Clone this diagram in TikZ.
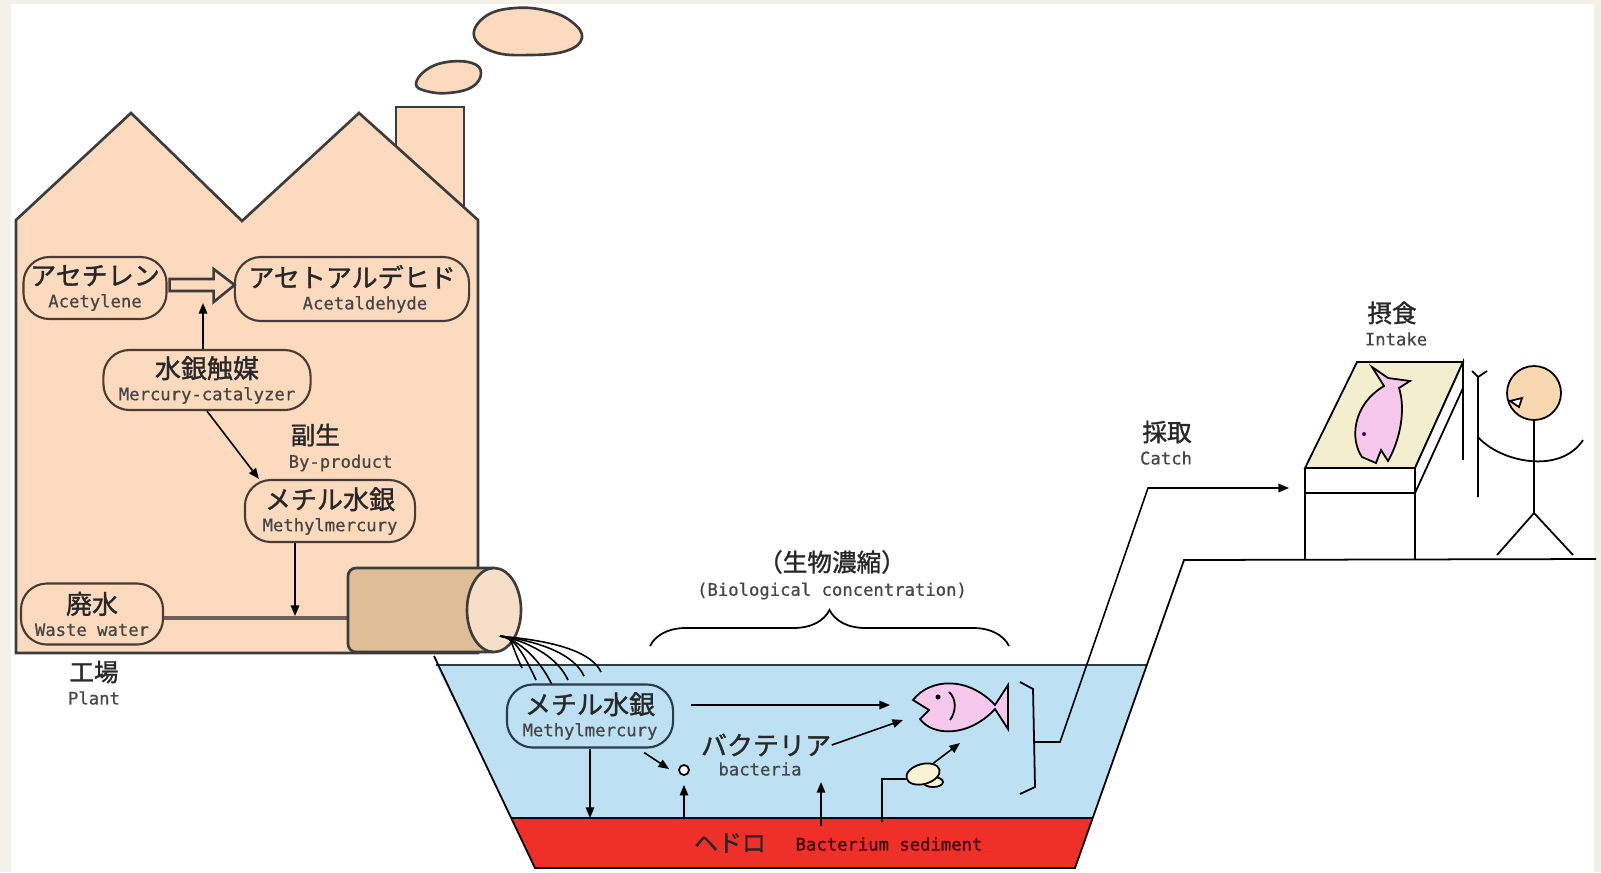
\documentclass[tikz,border=0pt]{standalone}
\usepackage{fontspec}
\usepackage{xcolor}
\usepackage{tikz}
\usetikzlibrary{shapes.geometric, arrows.meta, positioning, calc, decorations.pathreplacing}
\newfontfamily\jpfont[FakeBold=1.3]{Noto Sans CJK JP}
\newfontfamily\enfont[FakeBold=0.6]{DejaVu Sans Mono}
\definecolor{paper}{RGB}{243, 240, 233}
\definecolor{factory}{RGB}{251, 218, 190}
\definecolor{outline}{RGB}{60, 60, 60}
\definecolor{boxline}{RGB}{74, 60, 52}
\definecolor{pipebody}{RGB}{222, 190, 150}
\definecolor{pipeend}{RGB}{247, 222, 200}
\definecolor{pipeline}{RGB}{110, 96, 88}
\definecolor{water}{RGB}{189, 224, 242}
\definecolor{pondline}{RGB}{40, 60, 75}
\definecolor{sludge}{RGB}{238, 48, 41}
\definecolor{tabletop}{RGB}{242, 238, 206}
\definecolor{fishpink}{RGB}{246, 200, 236}
\definecolor{skin}{RGB}{249, 215, 176}
\definecolor{shellcream}{RGB}{250, 242, 212}
\definecolor{jptext}{RGB}{40, 40, 40}
\definecolor{entext}{RGB}{70, 70, 70}
\newcommand{\entxt}[1]{{\enfont\fontsize{4.9}{5}\selectfont\color{entext}#1}}

\begin{document}
\begin{tikzpicture}[
    x=0.01cm, y=-0.01cm,
    fbox/.style={rectangle, draw=boxline, line width=0.6pt, fill=factory, rounded corners=0.26cm, align=center, inner sep=0pt, text=jptext, font=\jpfont\fontsize{7.4}{6.3}\selectfont},
    pbox/.style={fbox, draw=pondline, fill=water},
    tag/.style={align=center, inner sep=0pt, text=jptext, font=\jpfont\fontsize{7}{7}\selectfont},
    thickline/.style={line width=0.75pt, draw=outline},
    thinline/.style={line width=0.5pt, draw=black},
    arrow/.style={-{Triangle[length=3pt, width=2.4pt]}, line width=0.45pt, black},
    stream/.style={line width=0.45pt, black},
    wasteline/.style={line width=0.9pt, draw=pipeline}
]
    \useasboundingbox (0,0) rectangle (1601,872);
    \fill[paper] (0,0) rectangle (1601,872);
    \fill[white] (11,4) rectangle (1594,872);

    % smoke
    \draw[thickline, fill=factory] plot[smooth cycle, tension=0.7] coordinates {(474,36) (486,16) (515,8) (548,11) (572,22) (582,38) (566,51) (530,55) (494,52)};
    \draw[thickline, fill=factory] plot[smooth cycle, tension=0.7] coordinates {(416,84) (426,70) (447,62) (472,63) (481,73) (472,87) (448,93) (426,91)};

    % plant building
    \draw[thickline, fill=factory] (396,215) -- (396,107) -- (464,107) -- (464,215);
    \draw[thickline, fill=factory] (16,653) -- (16,220) -- (131,113) -- (242,221) -- (359,113) -- (478,220) -- (478,653) -- cycle;

    \node[fbox, minimum width=1.43cm, minimum height=0.62cm] (ace) at (95,288) {アセチレン\\\entxt{Acetylene}};
    \node[fbox, minimum width=2.34cm, minimum height=0.64cm] (ald) at (352,289) {アセトアルデヒド\\\entxt{\hspace*{1.5em}Acetaldehyde}};
    \node[fbox, minimum width=2.07cm, minimum height=0.60cm] (cat) at (207,380) {水銀触媒\\\entxt{Mercury-catalyzer}};
    \node[fbox, minimum width=1.70cm, minimum height=0.62cm] (mhg) at (330,511) {メチル水銀\\\entxt{Methylmercury}};
    \node[fbox, minimum width=1.42cm, minimum height=0.61cm] (waste) at (92,614) {廃水\\\entxt{Waste water}};

    \node[tag, anchor=west] (byp) at (290,435) {副生};
    \node[tag, anchor=west] (bypen) at (288,463) {\entxt{By-product}};
    \node[tag] (plant) at (94,672) {工場};
    \node[tag] (planten) at (94,698) {\entxt{Plant}};

    \draw[thickline, fill=factory] ($(ace.east)+(2,-9)$) -- ++(44,0) -- ++(0,-10) -- ++(21,16) -- ++(-21,17) -- ++(0,-11) -- ++(-44,0) -- cycle;
    \coordinate (cata) at (203,303);
    \draw[arrow] (cat.north -| cata) -- (cata);
    \draw[arrow] (cat.south) -- ($(mhg.north west)+(15,0)$);

    % drain pipe
    \coordinate (pipe) at (348,618);
    \coordinate (join) at (295,616);
    \draw[wasteline] (waste.east |- pipe) -- (pipe);
    \draw[arrow] (mhg.south -| join) -- (join);
    \draw[thickline, fill=pipebody, rounded corners=0.08cm] (494,568) -- (348,568) -- (348,652) -- (494,652);
    \draw[thickline, fill=pipeend] (494,610) ellipse [x radius=27, y radius=42];

    % pond
    \fill[water] (436,665) -- (1146,665) -- (1093,818) -- (512,818) -- cycle;
    \fill[sludge] (512,818) -- (1093,818) -- (1075,868) -- (535,868) -- cycle;
    \draw[thinline, draw=pondline] (436,665) -- (1146,665);
    \draw[thinline] (512,818) -- (1093,818);
    \draw[thinline] (434,656) -- (535,868) -- (1075,868) -- (1184,560) -- (1596,559);

    \foreach \ex/\ey in {522/668, 536/680, 552/685, 568/680, 584/676, 601/672}
        \draw[stream] (500,636) .. controls (514,638) and (\ex-14,\ey-30) .. (\ex,\ey);

    \node[tag] (bioc) at (832,562) {（生物濃縮）};
    \node[tag] (biocen) at (832,591) {\entxt{(Biological concentration)}};
    \draw[thinline, decorate, decoration={brace, amplitude=0.36cm}] (650,646) -- (1009,646);

    \node[pbox, minimum width=1.66cm, minimum height=0.63cm] (pmhg) at (590,716) {メチル水銀\\\entxt{Methylmercury}};
    \node[tag, font=\jpfont\fontsize{7.4}{7.4}\selectfont] (bact) at (766,745) {バクテリア};
    \node[tag] (bacten) at (760,769) {\entxt{bacteria}};
    \node[circle, draw, fill=white, line width=0.5pt, minimum size=0.1cm, inner sep=0pt] (bub) at (684,770) {};

    % fish in the water
    \draw[thinline, fill=fishpink] (913,700) .. controls (930,678) and (968,676) .. (995,705) -- (1008,685) -- (1008,729) -- (995,709) .. controls (968,738) and (932,736) .. (920,719) -- (929,710) -- cycle;
    \fill (938,697) circle [radius=2.5];
    \draw[thinline] (949,692) .. controls (957,699) and (956,712) .. (950,720);

    \draw[thinline, fill=shellcream] (933,782) ellipse [x radius=10, y radius=5];
    \node[ellipse, draw, line width=0.5pt, fill=shellcream, minimum width=0.34cm, minimum height=0.2cm, inner sep=0pt, rotate=15] (shell) at (923,774) {};

    \coordinate (sedtop) at (700,818);
    \coordinate (fishm) at (890,705);
    \coordinate (fishb) at (903,720);
    \coordinate (fishs) at (960,743);
    \coordinate (bactup) at (821,782);
    \coordinate (shellfoot) at (882,822);
    \draw[arrow] ($(pmhg.east |- fishm)+(17,0)$) -- (fishm);
    \draw[arrow] (bact.east) -- (fishb);
    \draw[arrow] ($(pmhg.south east)+(-30,4)$) -- ($(bub.west)+(-9,-1)$);
    \draw[arrow] (pmhg.south) -- (pmhg.south |- sedtop);
    \draw[arrow] (bub.south |- sedtop) -- ($(bub.south)+(0,9)$);
    \draw[arrow] ($(bactup)+(0,44)$) -- (bactup);
    \draw[thinline] (shellfoot) |- (shell.west);
    \draw[arrow] (shell.north east) -- (fishs);

    \node[tag, font=\jpfont\fontsize{6.8}{6.8}\selectfont] (hedoro) at (730,843) {ヘドロ};
    \node[tag, text=black!80!red] (sedim) at (889,844) {\enfont\fontsize{4.9}{5}\selectfont Bacterium sediment};

    % catch
    \draw[thinline] (1020,682) -- (1033,689) -- (1035,787) -- (1020,794);
    \coordinate (brk) at (1035,742);
    \coordinate (bend1) at (1060,742);
    \coordinate (bend2) at (1148,488);
    \coordinate (tbl) at (1289,488);
    \draw[arrow] (brk) -- (bend1) -- (bend2) -- (tbl);
    \node[tag] (catchjp) at (1167,432) {採取};
    \node[tag] (catchen) at (1166,458) {\entxt{Catch}};

    % table and eater
    \draw[thinline, fill=tabletop] (1305,468) -- (1415,468) -- (1463,362) -- (1357,362) -- cycle;
    \draw[thinline, fill=white] (1415,468) -- (1463,362) -- (1463,388) -- (1415,493) -- cycle;
    \draw[thinline] (1305,468) -- (1305,559) (1415,468) -- (1415,559) (1305,493) -- (1415,493);
    \draw[thinline, fill=fishpink] (1372,367) -- (1388,378) -- (1410,381) -- (1399,388) .. controls (1406,410) and (1400,440) .. (1388,461) -- (1381,450) -- (1376,463) -- (1362,457) .. controls (1350,440) and (1352,405) .. (1384,386) -- cycle;
    \fill[violet!70!black] (1364,434) circle [radius=2];
    \draw[thinline] (1463,362) -- (1463,460);
    \draw[thinline] (1478,377) -- (1478,497) (1472,371) -- (1478,377) -- (1487,371);

    \draw[thinline, fill=skin] (1534,393) circle [radius=27];
    \draw[thinline, fill=white] (1522,398) -- (1510,401) -- (1519,407) -- cycle;
    \draw[thinline] (1534,420) -- (1534,513) -- (1497,555) (1534,513) -- (1573,555);
    \draw[thinline] (1478,437) .. controls (1500,462) and (1560,475) .. (1583,440);
    \node[tag] (intakejp) at (1392,313) {摂食};
    \node[tag] (intakeen) at (1396,339) {\entxt{Intake}};
\end{tikzpicture}
\end{document}
